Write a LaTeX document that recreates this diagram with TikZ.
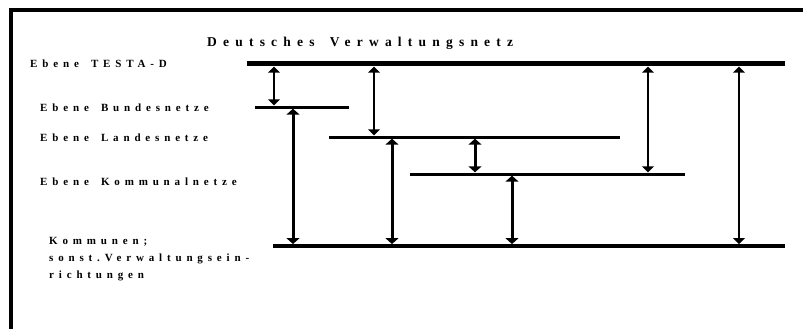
\documentclass[tikz,border=0pt]{standalone}
\usepackage{fontspec}
\setmainfont{Liberation Serif}
\newfontfamily\lblfont[LetterSpace=44,WordSpace=1.6]{Liberation Serif}
\newfontfamily\ttlfont[LetterSpace=46,WordSpace=1.6]{Liberation Serif}
\usetikzlibrary{arrows.meta}
\begin{document}
\begin{tikzpicture}[x=1pt,y=-1pt,
  bar/.style={fill=black,inner sep=0pt,anchor=west},
  lbl/.style={anchor=west,inner sep=0pt,font=\lblfont\bfseries\fontsize{11}{17}\selectfont,align=left},
  thinarr/.style={line width=1.5pt,{Triangle[width=12pt,length=6pt]}-{Triangle[width=12pt,length=6pt]}},
  thickarr/.style={line width=3pt,{Triangle[width=13pt,length=6pt]}-{Triangle[width=13pt,length=6pt]}}]
\useasboundingbox (0,0) rectangle (803,329);
\fill[white] (0,0) rectangle (803,329);
% frame
\draw[line width=4.5pt] (11,329) -- (11,10) -- (803,10);
% title
\node[anchor=west,inner sep=0pt,font=\ttlfont\bfseries\fontsize{13.5}{15}\selectfont] (title) at (207,43) {Deutsches Verwaltungsnetz};
% labels
\node[lbl] (ltesta) at (30,64) {Ebene TESTA-D};
\node[lbl] (lbund) at (40,108) {Ebene Bundesnetze};
\node[lbl] (lland) at (40,138) {Ebene Landesnetze};
\node[lbl] (lkomm) at (40,182) {Ebene Kommunalnetze};
\node[lbl] (lkommunen) at (49,259) {Kommunen;\\sonst.Verwaltungsein-\\richtungen};
% bars
\node[bar,minimum width=538pt,minimum height=5pt] (testa) at (247,64) {};
\node[bar,minimum width=94pt,minimum height=3pt] (bund) at (255,107) {};
\node[bar,minimum width=291pt,minimum height=3pt] (land) at (329,137) {};
\node[bar,minimum width=275pt,minimum height=3pt] (komm) at (410,174) {};
\node[bar,minimum width=512pt,minimum height=3.5pt] (kommunen) at (273,246) {};
% arrow x positions
\coordinate (a1) at (274,0);
\coordinate (a2) at (374,0);
\coordinate (a3) at (293,0);
\coordinate (a4) at (392,0);
\coordinate (a5) at (475,0);
\coordinate (a6) at (648,0);
\coordinate (a7) at (739,0);
\coordinate (a8) at (512,0);
% connectors
\draw[thinarr] (testa.south -| a1) -- (bund.north -| a1);
\draw[thinarr] (testa.south -| a2) -- (land.north -| a2);
\draw[thinarr] (testa.south -| a6) -- (komm.north -| a6);
\draw[thinarr] (testa.south -| a7) -- (kommunen.north -| a7);
\draw[thickarr] (bund.south -| a3) -- (kommunen.north -| a3);
\draw[thickarr] (land.south -| a4) -- (kommunen.north -| a4);
\draw[thickarr] (land.south -| a5) -- (komm.north -| a5);
\draw[thickarr] (komm.south -| a8) -- (kommunen.north -| a8);
\end{tikzpicture}
\end{document}
